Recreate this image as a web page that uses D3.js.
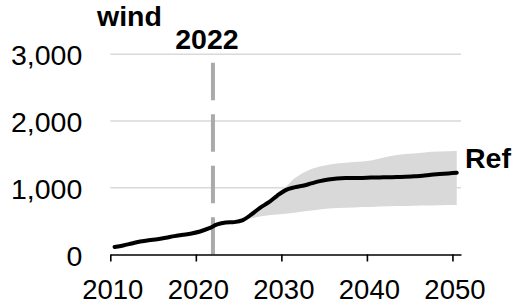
<!DOCTYPE html>
<html>
<head>
<meta charset="utf-8">
<script src="https://cdn.jsdelivr.net/npm/d3@7"></script>
<style>
  html, body { margin: 0; padding: 0; background: #fff; }
  svg { display: block; font-family: "Liberation Sans", Arial, sans-serif; }
</style>
</head>
<body>
<svg id="chart" width="512" height="304"></svg>
<script>
const years = d3.range(2010, 2051);
const refValues = [112,135,165,195,215,228,250,275,295,316,345,390,450,478,485,515,600,700,780,880,965,1005,1030,1065,1100,1125,1140,1145,1145,1148,1152,1155,1158,1160,1165,1172,1180,1195,1205,1215,1225];
const bandYears = d3.range(2025, 2051);
const bandHigh = [515,600,700,790,900,1010,1140,1220,1280,1320,1345,1365,1375,1385,1395,1410,1440,1470,1490,1505,1515,1525,1540,1545,1548,1550];
const bandLow = [515,545,570,590,600,610,625,645,660,675,688,695,700,705,710,713,718,722,725,728,730,733,735,738,740,742];
const xTicks = [2010, 2020, 2030, 2040, 2050];
const yTicks = [0, 1000, 2000, 3000];
const markerYear = 2022;
const title = "wind";
const seriesLabel = "Ref";

const svg = d3.select("#chart");
const fs = 28.5;
const fsX = 27.5;
const x = d3.scaleLinear().domain([2010, 2051]).range([110.3, 461]);
const y = d3.scaleLinear().domain([0, 3000]).range([254.5, 54.3]);
const xp = yr => x(yr + 0.5);

// gridlines
svg.append("g").selectAll("line").data(yTicks.filter(d => d > 0)).join("line")
  .attr("x1", x(2010)).attr("x2", x(2051))
  .attr("y1", d => y(d)).attr("y2", d => y(d))
  .attr("stroke", "#d9d9d9").attr("stroke-width", 1.5);

// band
const band = bandYears.map((yr, i) => ({yr, lo: bandLow[i], hi: bandHigh[i]}));
svg.append("path").datum(band)
  .attr("fill", "#d9d9d9")
  .attr("d", d3.area().x(d => xp(d.yr)).y0(d => y(d.lo)).y1(d => y(d.hi)));

// marker line
svg.append("line")
  .attr("x1", x(markerYear)).attr("x2", x(markerYear))
  .attr("y1", 62.7).attr("y2", y(0))
  .attr("stroke", "#aaaaaa").attr("stroke-width", 4)
  .attr("stroke-dasharray", "37.5,14");

// x axis
const xAxis = svg.append("g").attr("transform", `translate(0,${y(0)})`)
  .call(d3.axisBottom(x).tickValues(xTicks).tickFormat(d3.format("d")).tickSize(7).tickPadding(18).tickSizeOuter(0));
xAxis.select(".domain").attr("stroke", "#000").attr("stroke-width", 1.6);
xAxis.selectAll(".tick line").attr("stroke", "#000").attr("stroke-width", 1.6);
xAxis.selectAll("text").attr("font-size", fsX).attr("dx", "2").attr("font-family", "Liberation Sans, Arial, sans-serif").attr("fill", "#000");

// y axis labels
const yAxis = svg.append("g").attr("transform", `translate(${x(2010)},0)`)
  .call(d3.axisLeft(y).tickValues(yTicks).tickFormat(d3.format(",")).tickSize(0).tickPadding(28));
yAxis.select(".domain").remove();
yAxis.selectAll("text").attr("font-size", fs).attr("dy", "0.37em").attr("font-family", "Liberation Sans, Arial, sans-serif").attr("fill", "#000");

// ref line
const ref = years.map((yr, i) => ({yr, v: refValues[i]}));
svg.append("path").datum(ref)
  .attr("fill", "none").attr("stroke", "#000").attr("stroke-width", 4)
  .attr("stroke-linecap", "round").attr("stroke-linejoin", "round")
  .attr("d", d3.line().x(d => xp(d.yr)).y(d => y(d.v)).curve(d3.curveMonotoneX));

// labels
svg.append("text").attr("x", 97).attr("y", 26).attr("font-size", fs).attr("font-weight", "bold").text(title);
svg.append("text").attr("x", x(markerYear) - 6).attr("y", 49).attr("text-anchor", "middle")
  .attr("font-size", fs).attr("font-weight", "bold").text(markerYear);
svg.append("text").attr("x", 465).attr("y", 168).attr("font-size", fs).attr("font-weight", "bold").text(seriesLabel);
</script>
</body>
</html>
